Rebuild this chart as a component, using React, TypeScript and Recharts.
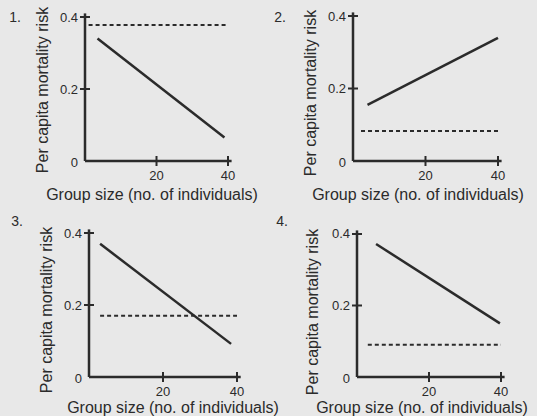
import React from "react";
import { Line, LineChart, XAxis, YAxis } from "recharts";

const panelNumbers = ["1.", "2.", "3.", "4."];
const xTitle = "Group size (no. of individuals)";
const yTitle = "Per capita mortality risk";
const xTicks = [20, 40];
const yTicks = [0, 0.2, 0.4];

// solid line end points (group size, risk) per panel
const solidSize = [
  [3.5, 39],
  [4, 40],
  [3, 38.4],
  [5.3, 39.7],
];
const solidRisk = [
  [0.34, 0.065],
  [0.155, 0.34],
  [0.37, 0.092],
  [0.372, 0.15],
];
// dashed line per panel
const dashedSize = [
  [1, 40],
  [2.2, 40],
  [3, 40],
  [3, 40],
];
const dashedRisk = [0.378, 0.083, 0.17, 0.09];

const W = 537;
const H = 416;
const AX = 30;
const ink = "#2b2b2b";
const font = "'Liberation Sans', Arial, sans-serif";

// plot boxes: left, top, right, bottom
const boxes = [
  { l: 85, t: 13.4, r: 231.6, b: 161, num: [15, 17], yt: [43, 90], xt: [152, 195] },
  { l: 353, t: 12.4, r: 501.6, b: 161, num: [280, 17], yt: [311, 93], xt: [418, 195] },
  { l: 89, t: 229.4, r: 240.7, b: 377, num: [17, 221], yt: [47, 310], xt: [173, 408] },
  { l: 357, t: 230.4, r: 504.6, b: 377, num: [282, 221], yt: [313, 312], xt: [422, 408] },
];

const YTick = (props: any) => {
  const { x, y, payload } = props;
  return (
    <g>
      {payload.value !== 0 && (
        <line x1={x - 5} x2={x + 5} y1={y} y2={y} stroke={ink} strokeWidth={2} />
      )}
      <text x={x - 7} y={y} dy={payload.value === 0 ? 6 : 4.5} textAnchor="end" fontSize={13} fill={ink} fontFamily={font}>
        {String(payload.value)}
      </text>
    </g>
  );
};

const XTick = (props: any) => {
  const { x, y, payload } = props;
  return (
    <g>
      <line x1={x} x2={x} y1={y - 5} y2={y + 5} stroke={ink} strokeWidth={2} />
      <text x={x} y={y + 19} textAnchor="middle" fontSize={13} fill={ink} fontFamily={font}>
        {String(payload.value)}
      </text>
    </g>
  );
};

const Panel = ({ i }: { i: number }) => {
  const b = boxes[i];
  const solid = solidSize[i].map((s, k) => ({ size: s, risk: solidRisk[i][k] }));
  const dashed = dashedSize[i].map((s) => ({ size: s, risk: dashedRisk[i] }));
  return (
    <>
      <div style={{ position: "absolute", left: 0, top: 0 }}>
        <LineChart
          width={W}
          height={H}
          margin={{ left: b.l - AX, top: b.t, right: W - b.r, bottom: H - b.b - AX }}
        >
          <XAxis
            type="number"
            dataKey="size"
            domain={[0, 41]}
            ticks={xTicks}
            interval={0}
            height={AX}
            tickSize={0}
            tickMargin={0}
            tick={XTick}
            axisLine={{ stroke: ink, strokeWidth: 2.5 }}
            allowDataOverflow
          />
          <YAxis
            type="number"
            domain={[0, 0.41]}
            ticks={yTicks}
            interval={0}
            width={AX}
            tickSize={0}
            tickMargin={0}
            tick={YTick}
            axisLine={{ stroke: ink, strokeWidth: 2.5 }}
            allowDataOverflow
          />
          <Line
            data={solid}
            dataKey="risk"
            stroke={ink}
            strokeWidth={2.5}
            dot={false}
            isAnimationActive={false}
          />
          <Line
            data={dashed}
            dataKey="risk"
            stroke={ink}
            strokeWidth={2}
            strokeDasharray="4 3"
            dot={false}
            isAnimationActive={false}
          />
        </LineChart>
      </div>
      <div style={{ position: "absolute", left: b.num[0], top: b.num[1], transform: "translate(-50%,-50%)", fontSize: 14 }}>
        {panelNumbers[i]}
      </div>
      <div
        style={{
          position: "absolute",
          left: b.yt[0],
          top: b.yt[1],
          transform: "translate(-50%,-50%) rotate(-90deg)",
          whiteSpace: "nowrap",
          fontSize: 16,
        }}
      >
        {yTitle}
      </div>
      <div
        style={{
          position: "absolute",
          left: b.xt[0],
          top: b.xt[1],
          transform: "translate(-50%,-50%)",
          whiteSpace: "nowrap",
          fontSize: 16,
        }}
      >
        {xTitle}
      </div>
    </>
  );
};

export default function App() {
  return (
    <div
      style={{
        position: "absolute",
        left: 0,
        top: 0,
        width: W,
        height: H,
        background: "#e8e8e8",
        color: ink,
        fontFamily: font,
        overflow: "hidden",
      }}
    >
      {[0, 1, 2, 3].map((i) => (
        <Panel key={i} i={i} />
      ))}
    </div>
  );
}
